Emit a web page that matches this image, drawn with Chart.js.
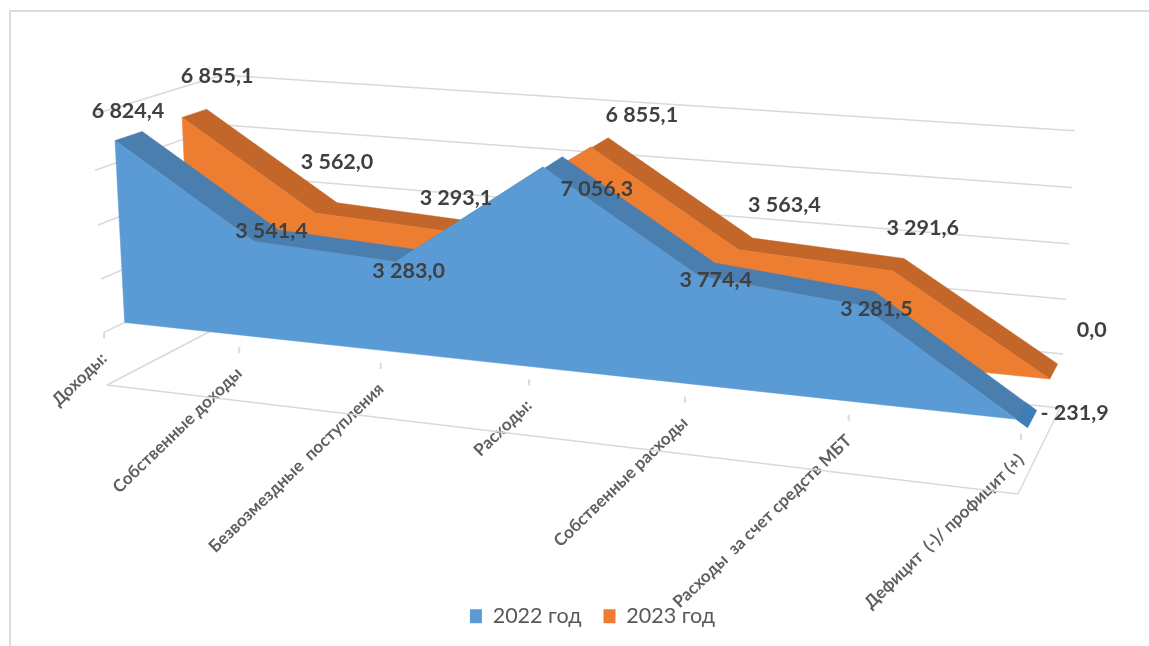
<!DOCTYPE html>
<html lang="ru">
<head>
<meta charset="utf-8">
<title>Доходы и расходы</title>
<script src="https://cdn.jsdelivr.net/npm/chart.js@4"></script>
<style>
  html, body { margin: 0; padding: 0; background: #fff; overflow: hidden; }
  #box { position: relative; width: 1149px; height: 646px; }
  #frame { position: absolute; left: 9px; top: 10px; right: 0; bottom: 0; border-left: 2px solid #dcdcdc; border-top: 2px solid #dcdcdc; }
  canvas { position: absolute; left: 0; top: 0; }
</style>
</head>
<body>
<div id="box">
  <div id="frame"></div>
  <canvas id="myChart" width="1149" height="646"></canvas>
</div>
<script>
const categorias = ['Доходы:', 'Собственные доходы', 'Безвозмездные  поступления', 'Расходы:', 'Собственные расходы', 'Расходы  за счет средств МБТ', 'Дефицит  (-)/ профицит (+)'];
const valores2022 = [6824.4, 3541.4, 3283.0, 7056.3, 3774.4, 3281.5, -231.9];
const valores2023 = [6855.1, 3562.0, 3293.1, 6855.1, 3563.4, 3291.6, 0.0];
const ticksY = [-2000, 0, 2000, 4000, 6000, 8000];

// perspectiva de la caja 3D: esquinas de la caja en pantalla y pesos
const O = [107, 385], X = [1018, 494], Y = [92, 115], Z = [232, 320];
const pesoX = 0.865, pesoY = 0.97, pesoZ = 1.107;

function proyectar(u, v, w) {
  const d = 1 + (pesoX - 1) * u + (pesoY - 1) * v + (pesoZ - 1) * w;
  return [0, 1].map(i => (O[i] + u * (pesoX * X[i] - O[i]) + v * (pesoY * Y[i] - O[i]) + w * (pesoZ * Z[i] - O[i])) / d);
}

// profundidad de cada serie dentro de la caja
const profundidad = [[0.15, 0.35], [0.66, 0.86]];
const coloresCara = ['#5B9BD5', '#ED7D31'];
const coloresCinta = ['#4A7EAF', '#C26629'];
const colorTapa = '#3F7DB5';

// desplazamiento de cada etiqueta respecto al punto frontal
const offs2022 = [[13, -29], [17, -10], [13, 9], [54, 22], [17, 4], [15, 4], [47, -14]];
const offs2023 = [[35, -41], [22, -51], [6, -34], [51, -32], [46, -45], [30, -43], [42, -49]];

function fmt(v) {
  const txt = Math.abs(v).toFixed(1).replace('.', ',').replace(/\B(?=(\d{3})+(?!\d))/g, ' ');
  return v < 0 ? '- ' + txt : txt;
}

function poligono(ctx, pts, color) {
  ctx.beginPath();
  pts.forEach((p, i) => i ? ctx.lineTo(p[0], p[1]) : ctx.moveTo(p[0], p[1]));
  ctx.closePath();
  ctx.fillStyle = color;
  ctx.strokeStyle = color;
  ctx.lineWidth = 0.5;
  ctx.fill();
  ctx.stroke();
}

function linea(ctx, a, b, color, ancho) {
  ctx.beginPath();
  ctx.moveTo(a[0], a[1]);
  ctx.lineTo(b[0], b[1]);
  ctx.strokeStyle = color;
  ctx.lineWidth = ancho;
  ctx.stroke();
}

const caja3d = {
  id: 'caja3d',
  beforeDraw(chart) {
    const sx = chart.scales.x;
    const n = categorias.length - 1;
    // las etiquetas del eje van sobre la arista frontal, fuera de la caja del eje
    sx._computeLabelArea = () => undefined;
    sx.getLabelItems().forEach((item, i) => {
      const p = proyectar(i / n, 0.2, 0);
      item.options.translation = [p[0] - 7, p[1] + 16];
    });
  },
  beforeDatasetsDraw(chart) {
    const ctx = chart.ctx;
    const sx = chart.scales.x, sy = chart.scales.y;
    const a = chart.chartArea;
    const U = px => (px - a.left) / (a.right - a.left);
    const V = px => (a.bottom - px) / (a.bottom - a.top);
    const v0 = V(sy.getPixelForValue(0));

    ctx.save();
    const gris = '#d9d9d9';
    // rejilla de las paredes
    ticksY.forEach(t => {
      const v = V(sy.getPixelForValue(t));
      const esquina = proyectar(0, v, 1);
      linea(ctx, proyectar(0, v, 0), esquina, gris, 1.5);
      linea(ctx, esquina, proyectar(1, v, 1), gris, 1.5);
    });
    // suelo
    linea(ctx, proyectar(0, 0, 0), proyectar(1, 0, 0), gris, 1.5);
    linea(ctx, proyectar(1, 0, 0), proyectar(1, 0, 1), gris, 1.5);
    // marcas del eje
    categorias.forEach((c, i) => {
      const p = proyectar(U(sx.getPixelForTick(i)), v0, 0);
      linea(ctx, p, [p[0], p[1] + 6], gris, 2);
    });

    // series: primero la del fondo
    [1, 0].forEach(s => {
      const puntos = chart.getDatasetMeta(s).data;
      const [w1, w2] = profundidad[s];
      const uv = puntos.map(el => [U(el.x), V(el.y)]);
      const frente = uv.map(q => proyectar(q[0], q[1], w1));
      const fondo = uv.map(q => proyectar(q[0], q[1], w2));
      const base = uv.map(q => proyectar(q[0], v0, w1));
      poligono(ctx, frente.concat(fondo.slice().reverse()), coloresCinta[s]);
      poligono(ctx, frente.concat(base.slice().reverse()), coloresCara[s]);
      const ult = uv[uv.length - 1];
      if (ult[1] < v0) {
        const previo = uv[uv.length - 2];
        const t = (previo[1] - v0) / (previo[1] - ult[1]);
        const uc = previo[0] + t * (ult[0] - previo[0]);
        poligono(ctx, [proyectar(uc, v0, w1), proyectar(uc, v0, w2), proyectar(ult[0], ult[1], w2), proyectar(ult[0], ult[1], w1)], colorTapa);
      }
    });
    ctx.restore();
  },
  afterDraw(chart) {
    const ctx = chart.ctx;
    const a = chart.chartArea;
    const U = px => (px - a.left) / (a.right - a.left);
    const V = px => (a.bottom - px) / (a.bottom - a.top);
    ctx.save();
    ctx.font = 'bold 21.5px Lato, "Open Sans", sans-serif';
    ctx.fillStyle = '#404040';
    ctx.textAlign = 'center';
    ctx.textBaseline = 'middle';
    [[valores2023, offs2023, 1], [valores2022, offs2022, 0]].forEach(([vals, offs, s]) => {
      chart.getDatasetMeta(s).data.forEach((el, i) => {
        const p = proyectar(U(el.x), V(el.y), profundidad[s][0]);
        ctx.fillText(fmt(vals[i]), p[0] + offs[i][0], p[1] + offs[i][1]);
      });
    });
    ctx.restore();
  }
};

const ctx = document.getElementById('myChart').getContext('2d');

const myChart = new Chart(ctx, {
  type: 'line',
  data: {
    labels: categorias,
    datasets: [{
      label: '2022 год',
      data: valores2022,
      backgroundColor: coloresCara[0],
      borderColor: coloresCara[0],
      borderWidth: 0,
      showLine: false,
      pointRadius: 0
    }, {
      label: '2023 год',
      data: valores2023,
      backgroundColor: coloresCara[1],
      borderColor: coloresCara[1],
      borderWidth: 0,
      showLine: false,
      pointRadius: 0
    }]
  },
  options: {
    responsive: false,
    animation: false,
    layout: { padding: { left: 56, right: 20, top: 20, bottom: 9 } },
    scales: {
      x: {
        type: 'category',
        grid: { display: false },
        border: { display: false },
        ticks: {
          autoSkip: false,
          minRotation: 44,
          maxRotation: 44,
          color: '#5f5f5f',
          font: { family: 'Lato, "Open Sans", sans-serif', size: 17, weight: 'bold' }
        }
      },
      y: {
        min: -2000,
        max: 8000,
        grid: { display: false },
        border: { display: false },
        ticks: { display: false, stepSize: 2000 }
      }
    },
    plugins: {
      tooltip: { enabled: false },
      legend: {
        position: 'bottom',
        labels: {
          color: '#595959',
          font: { family: 'Lato, "Open Sans", sans-serif', size: 21.5 },
          boxWidth: 12,
          boxHeight: 14,
          padding: 22
        }
      }
    }
  },
  plugins: [caja3d]
});
</script>
</body>
</html>
